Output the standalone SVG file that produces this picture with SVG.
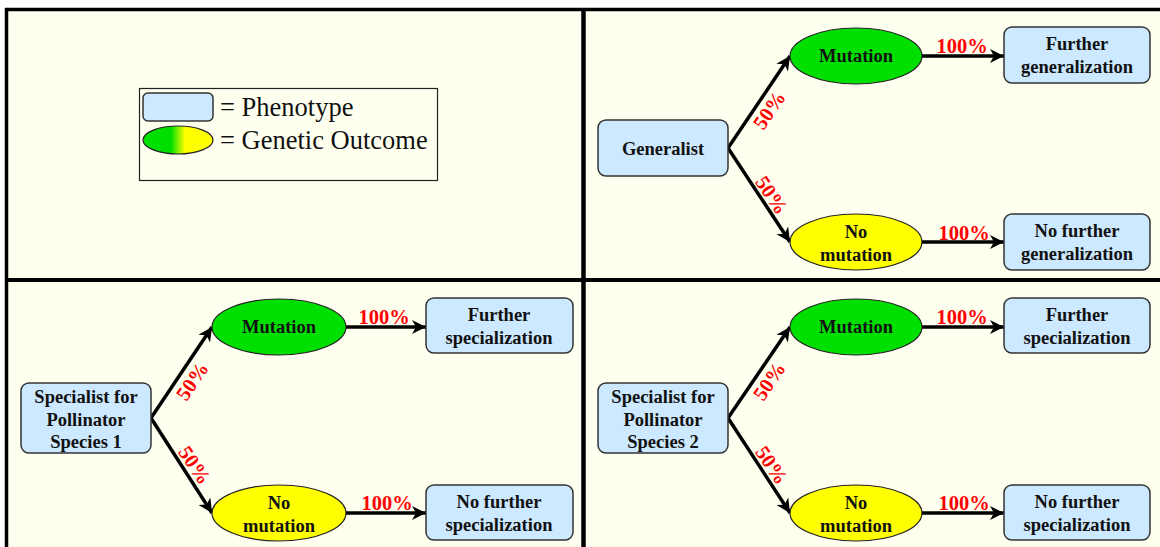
<svg xmlns="http://www.w3.org/2000/svg" width="1160" height="547" viewBox="0 0 1160 547">
<style>
.box{fill:#CCE9FF;stroke:#333;stroke-width:1.5}
.mut{fill:#00E000;stroke:#222;stroke-width:1.2}
.nomut{fill:#FFFF00;stroke:#222;stroke-width:1.2}
.t{font-family:"Liberation Serif",serif;font-weight:bold;font-size:18.5px;fill:#111;text-anchor:middle}
.p{font-family:"Liberation Serif",serif;font-weight:bold;font-size:20.5px;fill:#FF0000;text-anchor:middle}
.lg{font-family:"Liberation Serif",serif;font-size:26.5px;fill:#111}
.c{stroke:#000;stroke-width:3.5;fill:none;marker-end:url(#ah)}
.frame{stroke:#000;fill:none}
</style>
<defs>
<marker id="ah" markerUnits="userSpaceOnUse" markerWidth="18" markerHeight="16" refX="15" refY="8" orient="auto">
<path d="M1,1 L15,8 L1,15 L5,8 Z" fill="#000"/>
</marker>
<linearGradient id="gy" x1="0" x2="1" y1="0" y2="0">
<stop offset="0" stop-color="#00E000"/>
<stop offset="0.4" stop-color="#00E000"/>
<stop offset="0.6" stop-color="#FFFF00"/>
<stop offset="1" stop-color="#FFFF00"/>
</linearGradient>
</defs>
<rect width="1160" height="547" fill="#fff"/>
<rect x="5" y="8" width="1155" height="539" fill="#FFFFF0"/>
<g id="frame">
<line class="frame" x1="5" y1="9.5" x2="1160" y2="9.5" stroke-width="3.5"/>
<line class="frame" x1="6.5" y1="8" x2="6.5" y2="547" stroke-width="3.5"/>
<line class="frame" x1="583.5" y1="8" x2="583.5" y2="547" stroke-width="4.5"/>
<line class="frame" x1="5" y1="280" x2="1160" y2="280" stroke-width="4"/>
</g>
<g id="legend">
<rect x="139.5" y="88.5" width="298" height="92" fill="#FFFFF0" stroke="#222" stroke-width="1.2"/>
<rect x="143" y="93" width="70" height="28" rx="5" class="box"/>
<ellipse cx="178" cy="140" rx="35" ry="14" fill="url(#gy)" stroke="#222" stroke-width="1.2"/>
<text x="220" y="116" class="lg">= Phenotype</text>
<text x="220" y="149" class="lg">= Genetic Outcome</text>
</g>
<g id="connectors">
<path class="c" d="M728,148 L790,56"/>
<path class="c" d="M728,148 L790,242"/>
<path class="c" d="M922,56 L1004,56"/>
<path class="c" d="M922,242 L1004,242"/>
<path class="c" d="M151,418 L212,327"/>
<path class="c" d="M151,418 L212,513"/>
<path class="c" d="M346,327 L426,327"/>
<path class="c" d="M346,513 L426,513"/>
<path class="c" d="M728,418 L790,327"/>
<path class="c" d="M728,418 L790,513"/>
<path class="c" d="M922,327 L1004,327"/>
<path class="c" d="M922,513 L1004,513"/>
</g>
<g id="labels">
<text class="p" transform="translate(775,114) rotate(-56)">50%</text>
<text class="p" transform="translate(766,199) rotate(56)">50%</text>
<text class="p" x="962" y="53">100%</text>
<text class="p" x="964" y="240">100%</text>
<text class="p" transform="translate(198,385) rotate(-56)">50%</text>
<text class="p" transform="translate(189,469) rotate(56)">50%</text>
<text class="p" x="384" y="324">100%</text>
<text class="p" x="387" y="510">100%</text>
<text class="p" transform="translate(775,385) rotate(-56)">50%</text>
<text class="p" transform="translate(766,469) rotate(56)">50%</text>
<text class="p" x="962" y="324">100%</text>
<text class="p" x="964" y="510">100%</text>
</g>
<g id="generalist"><rect x="598" y="120" width="130" height="56" rx="8" class="box"/><text class="t" x="663" y="155">Generalist</text></g>
<g id="mutation-g"><ellipse cx="856" cy="56" rx="66" ry="28" class="mut"/><text class="t" x="856" y="62">Mutation</text></g>
<g id="nomutation-g"><ellipse cx="856" cy="242" rx="66" ry="28" class="nomut"/><text class="t" x="856" y="238">No</text><text class="t" x="856" y="261">mutation</text></g>
<g id="further-g"><rect x="1004" y="27" width="146" height="56" rx="8" class="box"/><text class="t" x="1077" y="50">Further</text><text class="t" x="1077" y="73">generalization</text></g>
<g id="nofurther-g"><rect x="1004" y="214" width="146" height="56" rx="8" class="box"/><text class="t" x="1077" y="237">No further</text><text class="t" x="1077" y="260">generalization</text></g>

<g id="specialist1"><rect x="21" y="383" width="130" height="70" rx="8" class="box"/><text class="t" x="86" y="403">Specialist for</text><text class="t" x="86" y="426">Pollinator</text><text class="t" x="86" y="448">Species 1</text></g>
<g id="mutation-s1"><ellipse cx="279" cy="327" rx="67" ry="28" class="mut"/><text class="t" x="279" y="333">Mutation</text></g>
<g id="nomutation-s1"><ellipse cx="279" cy="513" rx="67" ry="28" class="nomut"/><text class="t" x="279" y="509">No</text><text class="t" x="279" y="532">mutation</text></g>
<g id="further-s1"><rect x="426" y="298" width="147" height="55" rx="8" class="box"/><text class="t" x="499" y="321">Further</text><text class="t" x="499" y="344">specialization</text></g>
<g id="nofurther-s1"><rect x="426" y="485" width="147" height="55" rx="8" class="box"/><text class="t" x="499" y="508">No further</text><text class="t" x="499" y="531">specialization</text></g>

<g id="specialist2"><rect x="598" y="383" width="130" height="70" rx="8" class="box"/><text class="t" x="663" y="403">Specialist for</text><text class="t" x="663" y="426">Pollinator</text><text class="t" x="663" y="448">Species 2</text></g>
<g id="mutation-s2"><ellipse cx="856" cy="327" rx="66" ry="28" class="mut"/><text class="t" x="856" y="333">Mutation</text></g>
<g id="nomutation-s2"><ellipse cx="856" cy="513" rx="66" ry="28" class="nomut"/><text class="t" x="856" y="509">No</text><text class="t" x="856" y="532">mutation</text></g>
<g id="further-s2"><rect x="1004" y="298" width="146" height="55" rx="8" class="box"/><text class="t" x="1077" y="321">Further</text><text class="t" x="1077" y="344">specialization</text></g>
<g id="nofurther-s2"><rect x="1004" y="485" width="146" height="55" rx="8" class="box"/><text class="t" x="1077" y="508">No further</text><text class="t" x="1077" y="531">specialization</text></g>
</svg>
